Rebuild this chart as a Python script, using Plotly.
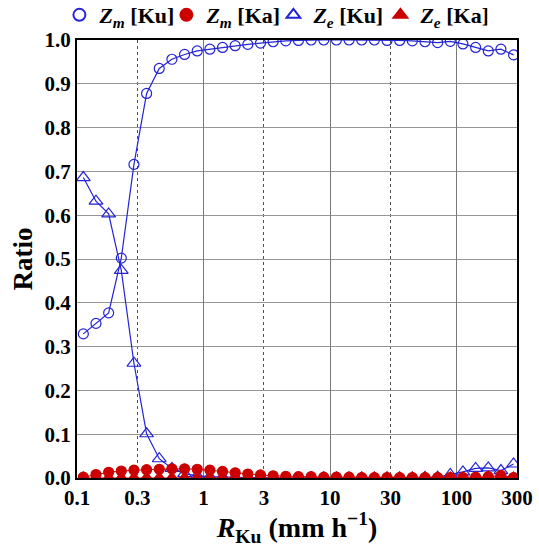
import numpy as np
import plotly.graph_objects as go

# Rain-rate bin centres (0.1-decade bins starting at 0.1 mm/h)
log_r = [-0.95 + 0.1 * k for k in range(35)]
rain_rate = [10 ** v for v in log_r]

zm_ku = [0.329, 0.353, 0.377, 0.502, 0.716, 0.878, 0.935, 0.956, 0.967, 0.975,
         0.979, 0.983, 0.987, 0.990, 0.993, 0.996, 0.998, 0.999, 1.000, 1.000,
         1.000, 1.000, 1.000, 1.000, 0.999, 0.999, 0.998, 0.996, 0.994, 0.997,
         0.991, 0.983, 0.975, 0.979, 0.966]
ze_ku = [0.686, 0.632, 0.603, 0.474, 0.262, 0.101, 0.044, 0.022, 0.010, 0.005,
         0.003, 0.002, 0.001, 0.001, 0.001, 0.000, 0.000, 0.000, 0.000, 0.000,
         0.000, 0.000, 0.000, 0.000, 0.000, 0.000, 0.000, 0.001, 0.002, 0.008,
         0.014, 0.022, 0.023, 0.017, 0.032]
zm_ka = [0.002, 0.008, 0.013, 0.016, 0.018, 0.019, 0.020, 0.021, 0.021, 0.020,
         0.018, 0.015, 0.012, 0.009, 0.007, 0.005, 0.004, 0.003, 0.003, 0.002,
         0.002, 0.002, 0.001, 0.001, 0.001, 0.001, 0.001, 0.001, 0.001, 0.001,
         0.001, 0.002, 0.003, 0.006, 0.001]
ze_ka = [0.000, 0.000, 0.000, 0.000, 0.000, 0.000, 0.000, 0.000, 0.000, 0.000,
         0.000, 0.000, 0.000, 0.000, 0.000, 0.000, 0.000, 0.000, 0.000, 0.000,
         0.000, 0.000, 0.000, 0.000, 0.000, 0.000, 0.000, 0.000, 0.000, 0.000,
         0.000, 0.000, 0.002, 0.003, 0.000]

x_tick_vals = [0.1, 0.3, 1, 3, 10, 30, 100, 300]
x_tick_text = ["0.1", "0.3", "1", "3", "10", "30", "100", "300"]
x_decades = [1, 10, 100]
x_half_decades = [0.3, 3, 30]
y_tick_vals = [round(0.1 * i, 1) for i in range(11)]

BLUE = "rgb(35,35,215)"
RED = "rgb(205,0,0)"
FONT = "Liberation Serif"
X_RANGE = [-1, float(np.log10(300))]

series = [
    ("<i>Z</i><sub><i>m</i></sub> [Ku]", zm_ku, BLUE, "circle-open", 10, 1.2, 1),
    ("<i>Z</i><sub><i>e</i></sub> [Ku]", ze_ku, BLUE, "triangle-up-open", 12, 1.2, 3),
    ("<i>Z</i><sub><i>m</i></sub> [Ka]", zm_ka, RED, "circle", 10, 1.0, 2),
    ("<i>Z</i><sub><i>e</i></sub> [Ka]", ze_ka, RED, "triangle-up", 12, 1.0, 4),
]

fig = go.Figure()
for name, vals, color, sym, size, lw, rank in series:
    fig.add_trace(go.Scatter(
        x=rain_rate, y=vals, mode="lines", showlegend=False,
        line=dict(color=color, width=lw), hoverinfo="skip"))
    fig.add_trace(go.Scatter(
        x=rain_rate, y=vals, mode="markers", name=name, legendrank=rank,
        marker=dict(symbol=sym, size=size, color=color,
                    line=dict(color=color, width=1.2))))

# invisible trace on an overlaid axis that carries the solid decade grid
fig.add_trace(go.Scatter(x=[x_decades[0]], y=[0], xaxis="x2", mode="markers",
                         marker=dict(opacity=0), showlegend=False, hoverinfo="skip"))

fig.update_layout(
    width=539, height=547,
    margin=dict(l=77, r=22, t=40, b=69, autoexpand=False),
    paper_bgcolor="white", plot_bgcolor="white",
    font=dict(family=FONT, size=18, color="black", weight="bold"),
    legend=dict(orientation="h", x=-0.04, y=1.057, xanchor="left", yanchor="middle",
                font=dict(family=FONT, size=22, weight="bold"), itemsizing="constant",
                itemwidth=30, entrywidth=62, entrywidthmode="pixels",
                bgcolor="rgba(0,0,0,0)"),
    xaxis=dict(
        type="log", range=X_RANGE,
        tickmode="array", tickvals=x_tick_vals, ticktext=x_tick_text,
        tickfont=dict(family=FONT, size=21, weight="bold"),
        showgrid=False,
        minor=dict(tickmode="array", tickvals=x_half_decades, showgrid=True,
                   griddash="dot", gridcolor="rgb(80,80,80)", gridwidth=1, ticks=""),
        showline=True, linecolor="black", linewidth=1.5, mirror=True,
        ticks="", zeroline=False,
        title=dict(text="<i>R</i><sub>Ku</sub> (mm h<sup>−1</sup>)",
                   font=dict(family=FONT, size=28, weight="bold"), standoff=2),
    ),
    xaxis2=dict(type="log", range=X_RANGE, overlaying="x", side="top",
                tickmode="array", tickvals=x_decades, showticklabels=False,
                showgrid=True, gridcolor="rgb(120,120,120)", gridwidth=1,
                ticks="", showline=False, zeroline=False),
    yaxis=dict(
        range=[0, 1.0], tickmode="array", tickvals=y_tick_vals,
        ticktext=["%.1f" % v for v in y_tick_vals],
        tickfont=dict(family=FONT, size=21, weight="bold"),
        showgrid=True, gridcolor="rgb(150,150,150)", gridwidth=1,
        showline=True, linecolor="black", linewidth=2, mirror=True,
        ticks="", zeroline=False,
        title=dict(text="Ratio", font=dict(family=FONT, size=27, weight="bold"), standoff=4),
    ),
)

fig.write_html("out.html")
